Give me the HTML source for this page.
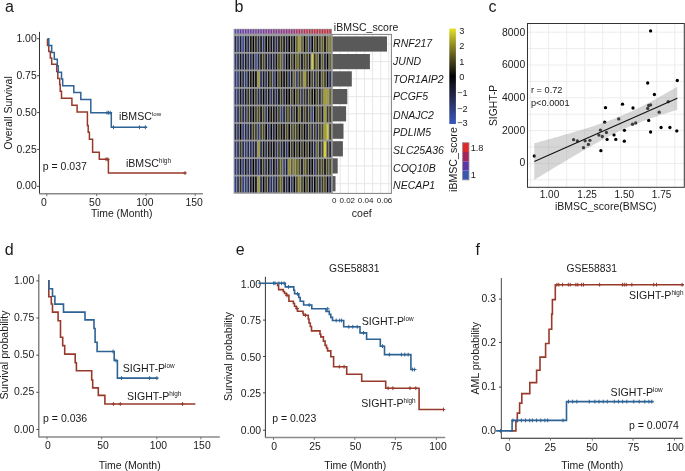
<!DOCTYPE html><html><head><meta charset="utf-8"><style>html,body{margin:0;padding:0;background:#fff;}svg{display:block;}</style></head><body>
<svg style="will-change:transform" width="685" height="471" viewBox="0 0 685 471" font-family='"Liberation Sans", sans-serif'>
<rect width="685" height="471" fill="#fff"/>
<text x="5" y="12.3" font-size="16" text-anchor="start" fill="#1a1a1a" >a</text>
<text x="234.6" y="11.8" font-size="16" text-anchor="start" fill="#1a1a1a" >b</text>
<text x="488.6" y="11.9" font-size="16" text-anchor="start" fill="#1a1a1a" >c</text>
<text x="4.8" y="254.6" font-size="16" text-anchor="start" fill="#1a1a1a" >d</text>
<text x="235.7" y="255" font-size="16" text-anchor="start" fill="#1a1a1a" >e</text>
<text x="475.5" y="254.5" font-size="16" text-anchor="start" fill="#1a1a1a" >f</text>
<line x1="39.5" y1="31.9" x2="39.5" y2="193.8" stroke="#333" stroke-width="1"/>
<line x1="39.0" y1="193.8" x2="202.9" y2="193.8" stroke="#8a8a8a" stroke-width="1.5"/>
<line x1="37.1" y1="38.7" x2="39.5" y2="38.7" stroke="#333" stroke-width="0.9"/>
<text x="36.7" y="41.85" font-size="10.4" text-anchor="end" fill="#1a1a1a" >1.00</text>
<line x1="37.1" y1="75.7" x2="39.5" y2="75.7" stroke="#333" stroke-width="0.9"/>
<text x="36.7" y="78.85" font-size="10.4" text-anchor="end" fill="#1a1a1a" >0.75</text>
<line x1="37.1" y1="112.6" x2="39.5" y2="112.6" stroke="#333" stroke-width="0.9"/>
<text x="36.7" y="115.75" font-size="10.4" text-anchor="end" fill="#1a1a1a" >0.50</text>
<line x1="37.1" y1="149.4" x2="39.5" y2="149.4" stroke="#333" stroke-width="0.9"/>
<text x="36.7" y="152.55" font-size="10.4" text-anchor="end" fill="#1a1a1a" >0.25</text>
<line x1="37.1" y1="186.3" x2="39.5" y2="186.3" stroke="#333" stroke-width="0.9"/>
<text x="36.7" y="189.45" font-size="10.4" text-anchor="end" fill="#1a1a1a" >0.00</text>
<line x1="46.8" y1="193.8" x2="46.8" y2="196.20000000000002" stroke="#666" stroke-width="0.9"/>
<text x="44.0" y="205.5" font-size="10.4" text-anchor="middle" fill="#1a1a1a" >0</text>
<line x1="96.7" y1="193.8" x2="96.7" y2="196.20000000000002" stroke="#666" stroke-width="0.9"/>
<text x="94.9" y="205.5" font-size="10.4" text-anchor="middle" fill="#1a1a1a" >50</text>
<line x1="146.0" y1="193.8" x2="146.0" y2="196.20000000000002" stroke="#666" stroke-width="0.9"/>
<text x="144.8" y="205.5" font-size="10.4" text-anchor="middle" fill="#1a1a1a" >100</text>
<line x1="195.2" y1="193.8" x2="195.2" y2="196.20000000000002" stroke="#666" stroke-width="0.9"/>
<text x="194.1" y="205.5" font-size="10.4" text-anchor="middle" fill="#1a1a1a" >150</text>
<text x="121.7" y="216.8" font-size="10.4" text-anchor="middle" fill="#1a1a1a" >Time (Month)</text>
<text transform="translate(12.0,113.0) rotate(-90)" font-size="10.5" text-anchor="middle" fill="#1a1a1a">Overall Survival</text>
<text x="42.8" y="169.8" font-size="10.5" text-anchor="start" fill="#1a1a1a" >p = 0.037</text>
<text x="118.9" y="119.9" font-size="10.6" fill="#1a1a1a">iBMSC<tspan font-size="6.2" dy="-4">low</tspan></text>
<text x="125.9" y="167.2" font-size="10.6" fill="#1a1a1a">iBMSC<tspan font-size="6.4" dy="-4">high</tspan></text>
<path d="M47.50,38.80 L47.50,45.50 L48.80,45.50 L48.80,51.50 L50.30,51.50 L50.30,58.00 L51.70,58.00 L51.70,64.20 L56.70,64.20 L56.70,71.40 L57.80,71.40 L57.80,78.40 L59.70,78.40 L59.70,84.50 L60.20,84.50 L60.20,91.20 L61.50,91.20 L61.50,98.30 L71.90,98.30 L71.90,105.30 L77.10,105.30 L77.10,112.00 L87.40,112.00 L87.40,125.40 L88.20,125.40 L88.20,132.20 L89.40,132.20 L89.40,139.20 L92.60,139.20 L92.60,152.30 L99.30,152.30 L99.30,159.30 L108.40,159.30 L108.40,173.00 L185.70,173.00" fill="none" stroke="#983a2b" stroke-width="1.5" stroke-linejoin="miter"/>
<path d="M47.50,38.80 L48.80,38.80 L48.80,45.60 L51.70,45.60 L51.70,52.60 L54.30,52.60 L54.30,59.30 L57.30,59.30 L57.30,65.70 L58.20,65.70 L58.20,72.20 L61.50,72.20 L61.50,79.00 L62.70,79.00 L62.70,85.70 L73.80,85.70 L73.80,92.40 L80.80,92.40 L80.80,99.40 L90.80,99.40 L90.80,112.70 L111.30,112.70 L111.30,127.30 L146.90,127.30" fill="none" stroke="#2e6396" stroke-width="1.5" stroke-linejoin="miter"/>
<path d="M104.10,159.30 H107.90 M106.00,157.40 V161.20" stroke="#983a2b" stroke-width="1.0"/>
<path d="M105.80,159.30 H109.60 M107.70,157.40 V161.20" stroke="#983a2b" stroke-width="1.0"/>
<path d="M183.10,173.00 H186.90 M185.00,171.10 V174.90" stroke="#983a2b" stroke-width="1.0"/>
<path d="M105.10,112.70 H108.90 M107.00,110.80 V114.60" stroke="#2e6396" stroke-width="1.0"/>
<path d="M106.70,112.70 H110.50 M108.60,110.80 V114.60" stroke="#2e6396" stroke-width="1.0"/>
<path d="M108.30,112.70 H112.10 M110.20,110.80 V114.60" stroke="#2e6396" stroke-width="1.0"/>
<path d="M111.60,127.30 H115.40 M113.50,125.40 V129.20" stroke="#2e6396" stroke-width="1.0"/>
<path d="M137.60,127.30 H141.40 M139.50,125.40 V129.20" stroke="#2e6396" stroke-width="1.0"/>
<path d="M143.50,127.30 H147.30 M145.40,125.40 V129.20" stroke="#2e6396" stroke-width="1.0"/>
<rect x="233.6" y="28.8" width="98.39999999999999" height="165.0" fill="#9c9c9e"/>
<rect x="234.80" y="29.4" width="1.36" height="4.2" fill="#3755c8"/>
<rect x="237.36" y="29.4" width="1.36" height="4.2" fill="#603aba"/>
<rect x="239.92" y="29.4" width="1.36" height="4.2" fill="#6737b8"/>
<rect x="242.47" y="29.4" width="1.36" height="4.2" fill="#6937b7"/>
<rect x="245.03" y="29.4" width="1.36" height="4.2" fill="#6c37b7"/>
<rect x="247.59" y="29.4" width="1.36" height="4.2" fill="#6f37b6"/>
<rect x="250.15" y="29.4" width="1.36" height="4.2" fill="#7237b5"/>
<rect x="252.71" y="29.4" width="1.36" height="4.2" fill="#7537b4"/>
<rect x="255.26" y="29.4" width="1.36" height="4.2" fill="#7836b3"/>
<rect x="257.82" y="29.4" width="1.36" height="4.2" fill="#7b35b0"/>
<rect x="260.38" y="29.4" width="1.36" height="4.2" fill="#7f34ae"/>
<rect x="262.94" y="29.4" width="1.36" height="4.2" fill="#8233ab"/>
<rect x="265.49" y="29.4" width="1.36" height="4.2" fill="#8531a9"/>
<rect x="268.05" y="29.4" width="1.36" height="4.2" fill="#8930a6"/>
<rect x="270.61" y="29.4" width="1.36" height="4.2" fill="#8c2fa4"/>
<rect x="273.17" y="29.4" width="1.36" height="4.2" fill="#8f2ea1"/>
<rect x="275.73" y="29.4" width="1.36" height="4.2" fill="#932d9e"/>
<rect x="278.28" y="29.4" width="1.36" height="4.2" fill="#972c9a"/>
<rect x="280.84" y="29.4" width="1.36" height="4.2" fill="#9b2b96"/>
<rect x="283.40" y="29.4" width="1.36" height="4.2" fill="#a02a91"/>
<rect x="285.96" y="29.4" width="1.36" height="4.2" fill="#a4298d"/>
<rect x="288.52" y="29.4" width="1.36" height="4.2" fill="#a82889"/>
<rect x="291.07" y="29.4" width="1.36" height="4.2" fill="#ad2882"/>
<rect x="293.63" y="29.4" width="1.36" height="4.2" fill="#b42779"/>
<rect x="296.19" y="29.4" width="1.36" height="4.2" fill="#ba2770"/>
<rect x="298.75" y="29.4" width="1.36" height="4.2" fill="#c02667"/>
<rect x="301.31" y="29.4" width="1.36" height="4.2" fill="#c6265e"/>
<rect x="303.86" y="29.4" width="1.36" height="4.2" fill="#cb2455"/>
<rect x="306.42" y="29.4" width="1.36" height="4.2" fill="#d0234c"/>
<rect x="308.98" y="29.4" width="1.36" height="4.2" fill="#d42143"/>
<rect x="311.54" y="29.4" width="1.36" height="4.2" fill="#d8203d"/>
<rect x="314.09" y="29.4" width="1.36" height="4.2" fill="#d91f3b"/>
<rect x="316.65" y="29.4" width="1.36" height="4.2" fill="#db1f39"/>
<rect x="319.21" y="29.4" width="1.36" height="4.2" fill="#dd1e38"/>
<rect x="321.77" y="29.4" width="1.36" height="4.2" fill="#df1e36"/>
<rect x="324.33" y="29.4" width="1.36" height="4.2" fill="#e01d34"/>
<rect x="326.88" y="29.4" width="1.36" height="4.2" fill="#e21d32"/>
<rect x="329.44" y="29.4" width="1.36" height="4.2" fill="#e41c30"/>
<rect x="234.70" y="36.15" width="1.56" height="15.84" fill="#22284f"/>
<rect x="237.26" y="36.15" width="1.56" height="15.84" fill="#2d3b7c"/>
<rect x="239.82" y="36.15" width="1.56" height="15.84" fill="#1d203e"/>
<rect x="242.37" y="36.15" width="1.56" height="15.84" fill="#34499d"/>
<rect x="244.93" y="36.15" width="1.56" height="15.84" fill="#151627"/>
<rect x="247.49" y="36.15" width="1.56" height="15.84" fill="#22284f"/>
<rect x="250.05" y="36.15" width="1.56" height="15.84" fill="#151308"/>
<rect x="252.61" y="36.15" width="1.56" height="15.84" fill="#000000"/>
<rect x="255.16" y="36.15" width="1.56" height="15.84" fill="#272511"/>
<rect x="257.72" y="36.15" width="1.56" height="15.84" fill="#22284f"/>
<rect x="260.28" y="36.15" width="1.56" height="15.84" fill="#151308"/>
<rect x="262.84" y="36.15" width="1.56" height="15.84" fill="#2a366f"/>
<rect x="265.39" y="36.15" width="1.56" height="15.84" fill="#000000"/>
<rect x="267.95" y="36.15" width="1.56" height="15.84" fill="#151308"/>
<rect x="270.51" y="36.15" width="1.56" height="15.84" fill="#11111d"/>
<rect x="273.07" y="36.15" width="1.56" height="15.84" fill="#151627"/>
<rect x="275.63" y="36.15" width="1.56" height="15.84" fill="#22284f"/>
<rect x="278.18" y="36.15" width="1.56" height="15.84" fill="#151308"/>
<rect x="280.74" y="36.15" width="1.56" height="15.84" fill="#3b3816"/>
<rect x="283.30" y="36.15" width="1.56" height="15.84" fill="#151308"/>
<rect x="285.86" y="36.15" width="1.56" height="15.84" fill="#191b32"/>
<rect x="288.42" y="36.15" width="1.56" height="15.84" fill="#000000"/>
<rect x="290.97" y="36.15" width="1.56" height="15.84" fill="#272511"/>
<rect x="293.53" y="36.15" width="1.56" height="15.84" fill="#05050a"/>
<rect x="296.09" y="36.15" width="1.56" height="15.84" fill="#65621e"/>
<rect x="298.65" y="36.15" width="1.56" height="15.84" fill="#a39f25"/>
<rect x="301.21" y="36.15" width="1.56" height="15.84" fill="#65621e"/>
<rect x="303.76" y="36.15" width="1.56" height="15.84" fill="#000000"/>
<rect x="306.32" y="36.15" width="1.56" height="15.84" fill="#494619"/>
<rect x="308.88" y="36.15" width="1.56" height="15.84" fill="#2a366f"/>
<rect x="311.44" y="36.15" width="1.56" height="15.84" fill="#05050a"/>
<rect x="313.99" y="36.15" width="1.56" height="15.84" fill="#494619"/>
<rect x="316.55" y="36.15" width="1.56" height="15.84" fill="#151308"/>
<rect x="319.11" y="36.15" width="1.56" height="15.84" fill="#494619"/>
<rect x="321.67" y="36.15" width="1.56" height="15.84" fill="#65621e"/>
<rect x="324.23" y="36.15" width="1.56" height="15.84" fill="#05050a"/>
<rect x="326.78" y="36.15" width="1.56" height="15.84" fill="#65621e"/>
<rect x="329.34" y="36.15" width="1.56" height="15.84" fill="#848022"/>
<rect x="234.70" y="53.69" width="1.56" height="15.84" fill="#2d3b7c"/>
<rect x="237.26" y="53.69" width="1.56" height="15.84" fill="#22284f"/>
<rect x="239.82" y="53.69" width="1.56" height="15.84" fill="#151627"/>
<rect x="242.37" y="53.69" width="1.56" height="15.84" fill="#22284f"/>
<rect x="244.93" y="53.69" width="1.56" height="15.84" fill="#151627"/>
<rect x="247.49" y="53.69" width="1.56" height="15.84" fill="#262d5c"/>
<rect x="250.05" y="53.69" width="1.56" height="15.84" fill="#22284f"/>
<rect x="252.61" y="53.69" width="1.56" height="15.84" fill="#151308"/>
<rect x="255.16" y="53.69" width="1.56" height="15.84" fill="#34499d"/>
<rect x="257.72" y="53.69" width="1.56" height="15.84" fill="#22284f"/>
<rect x="260.28" y="53.69" width="1.56" height="15.84" fill="#151308"/>
<rect x="262.84" y="53.69" width="1.56" height="15.84" fill="#494619"/>
<rect x="265.39" y="53.69" width="1.56" height="15.84" fill="#151627"/>
<rect x="267.95" y="53.69" width="1.56" height="15.84" fill="#22284f"/>
<rect x="270.51" y="53.69" width="1.56" height="15.84" fill="#151627"/>
<rect x="273.07" y="53.69" width="1.56" height="15.84" fill="#22284f"/>
<rect x="275.63" y="53.69" width="1.56" height="15.84" fill="#151308"/>
<rect x="278.18" y="53.69" width="1.56" height="15.84" fill="#494619"/>
<rect x="280.74" y="53.69" width="1.56" height="15.84" fill="#65621e"/>
<rect x="283.30" y="53.69" width="1.56" height="15.84" fill="#2a366f"/>
<rect x="285.86" y="53.69" width="1.56" height="15.84" fill="#000000"/>
<rect x="288.42" y="53.69" width="1.56" height="15.84" fill="#05050a"/>
<rect x="290.97" y="53.69" width="1.56" height="15.84" fill="#494619"/>
<rect x="293.53" y="53.69" width="1.56" height="15.84" fill="#151308"/>
<rect x="296.09" y="53.69" width="1.56" height="15.84" fill="#65621e"/>
<rect x="298.65" y="53.69" width="1.56" height="15.84" fill="#494619"/>
<rect x="301.21" y="53.69" width="1.56" height="15.84" fill="#05050a"/>
<rect x="303.76" y="53.69" width="1.56" height="15.84" fill="#494619"/>
<rect x="306.32" y="53.69" width="1.56" height="15.84" fill="#3b3816"/>
<rect x="308.88" y="53.69" width="1.56" height="15.84" fill="#141422"/>
<rect x="311.44" y="53.69" width="1.56" height="15.84" fill="#d4cf28"/>
<rect x="313.99" y="53.69" width="1.56" height="15.84" fill="#3b3816"/>
<rect x="316.55" y="53.69" width="1.56" height="15.84" fill="#65621e"/>
<rect x="319.11" y="53.69" width="1.56" height="15.84" fill="#05050a"/>
<rect x="321.67" y="53.69" width="1.56" height="15.84" fill="#65621e"/>
<rect x="324.23" y="53.69" width="1.56" height="15.84" fill="#191b32"/>
<rect x="326.78" y="53.69" width="1.56" height="15.84" fill="#000000"/>
<rect x="329.34" y="53.69" width="1.56" height="15.84" fill="#65621e"/>
<rect x="234.70" y="71.24" width="1.56" height="15.84" fill="#2d3b7c"/>
<rect x="237.26" y="71.24" width="1.56" height="15.84" fill="#2d3b7c"/>
<rect x="239.82" y="71.24" width="1.56" height="15.84" fill="#151308"/>
<rect x="242.37" y="71.24" width="1.56" height="15.84" fill="#22284f"/>
<rect x="244.93" y="71.24" width="1.56" height="15.84" fill="#2d3b7c"/>
<rect x="247.49" y="71.24" width="1.56" height="15.84" fill="#151627"/>
<rect x="250.05" y="71.24" width="1.56" height="15.84" fill="#151308"/>
<rect x="252.61" y="71.24" width="1.56" height="15.84" fill="#05050a"/>
<rect x="255.16" y="71.24" width="1.56" height="15.84" fill="#000000"/>
<rect x="257.72" y="71.24" width="1.56" height="15.84" fill="#a39f25"/>
<rect x="260.28" y="71.24" width="1.56" height="15.84" fill="#22284f"/>
<rect x="262.84" y="71.24" width="1.56" height="15.84" fill="#151627"/>
<rect x="265.39" y="71.24" width="1.56" height="15.84" fill="#22284f"/>
<rect x="267.95" y="71.24" width="1.56" height="15.84" fill="#151308"/>
<rect x="270.51" y="71.24" width="1.56" height="15.84" fill="#3b3816"/>
<rect x="273.07" y="71.24" width="1.56" height="15.84" fill="#2a366f"/>
<rect x="275.63" y="71.24" width="1.56" height="15.84" fill="#05050a"/>
<rect x="278.18" y="71.24" width="1.56" height="15.84" fill="#494619"/>
<rect x="280.74" y="71.24" width="1.56" height="15.84" fill="#151308"/>
<rect x="283.30" y="71.24" width="1.56" height="15.84" fill="#05050a"/>
<rect x="285.86" y="71.24" width="1.56" height="15.84" fill="#151308"/>
<rect x="288.42" y="71.24" width="1.56" height="15.84" fill="#22284f"/>
<rect x="290.97" y="71.24" width="1.56" height="15.84" fill="#191b32"/>
<rect x="293.53" y="71.24" width="1.56" height="15.84" fill="#65621e"/>
<rect x="296.09" y="71.24" width="1.56" height="15.84" fill="#2a366f"/>
<rect x="298.65" y="71.24" width="1.56" height="15.84" fill="#3b3816"/>
<rect x="301.21" y="71.24" width="1.56" height="15.84" fill="#494619"/>
<rect x="303.76" y="71.24" width="1.56" height="15.84" fill="#a39f25"/>
<rect x="306.32" y="71.24" width="1.56" height="15.84" fill="#3b3816"/>
<rect x="308.88" y="71.24" width="1.56" height="15.84" fill="#05050a"/>
<rect x="311.44" y="71.24" width="1.56" height="15.84" fill="#494619"/>
<rect x="313.99" y="71.24" width="1.56" height="15.84" fill="#22284f"/>
<rect x="316.55" y="71.24" width="1.56" height="15.84" fill="#494619"/>
<rect x="319.11" y="71.24" width="1.56" height="15.84" fill="#05050a"/>
<rect x="321.67" y="71.24" width="1.56" height="15.84" fill="#65621e"/>
<rect x="324.23" y="71.24" width="1.56" height="15.84" fill="#3b3816"/>
<rect x="326.78" y="71.24" width="1.56" height="15.84" fill="#05050a"/>
<rect x="329.34" y="71.24" width="1.56" height="15.84" fill="#262d5c"/>
<rect x="234.70" y="88.78" width="1.56" height="15.84" fill="#2d3b7c"/>
<rect x="237.26" y="88.78" width="1.56" height="15.84" fill="#273062"/>
<rect x="239.82" y="88.78" width="1.56" height="15.84" fill="#151627"/>
<rect x="242.37" y="88.78" width="1.56" height="15.84" fill="#22284f"/>
<rect x="244.93" y="88.78" width="1.56" height="15.84" fill="#151627"/>
<rect x="247.49" y="88.78" width="1.56" height="15.84" fill="#2e2c13"/>
<rect x="250.05" y="88.78" width="1.56" height="15.84" fill="#1d203e"/>
<rect x="252.61" y="88.78" width="1.56" height="15.84" fill="#000000"/>
<rect x="255.16" y="88.78" width="1.56" height="15.84" fill="#3b3816"/>
<rect x="257.72" y="88.78" width="1.56" height="15.84" fill="#22284f"/>
<rect x="260.28" y="88.78" width="1.56" height="15.84" fill="#151627"/>
<rect x="262.84" y="88.78" width="1.56" height="15.84" fill="#05050a"/>
<rect x="265.39" y="88.78" width="1.56" height="15.84" fill="#22284f"/>
<rect x="267.95" y="88.78" width="1.56" height="15.84" fill="#151308"/>
<rect x="270.51" y="88.78" width="1.56" height="15.84" fill="#273062"/>
<rect x="273.07" y="88.78" width="1.56" height="15.84" fill="#151627"/>
<rect x="275.63" y="88.78" width="1.56" height="15.84" fill="#22284f"/>
<rect x="278.18" y="88.78" width="1.56" height="15.84" fill="#05050a"/>
<rect x="280.74" y="88.78" width="1.56" height="15.84" fill="#3b3816"/>
<rect x="283.30" y="88.78" width="1.56" height="15.84" fill="#1d203e"/>
<rect x="285.86" y="88.78" width="1.56" height="15.84" fill="#000000"/>
<rect x="288.42" y="88.78" width="1.56" height="15.84" fill="#05050a"/>
<rect x="290.97" y="88.78" width="1.56" height="15.84" fill="#494619"/>
<rect x="293.53" y="88.78" width="1.56" height="15.84" fill="#000000"/>
<rect x="296.09" y="88.78" width="1.56" height="15.84" fill="#494619"/>
<rect x="298.65" y="88.78" width="1.56" height="15.84" fill="#3b3816"/>
<rect x="301.21" y="88.78" width="1.56" height="15.84" fill="#273062"/>
<rect x="303.76" y="88.78" width="1.56" height="15.84" fill="#3b3816"/>
<rect x="306.32" y="88.78" width="1.56" height="15.84" fill="#1d203e"/>
<rect x="308.88" y="88.78" width="1.56" height="15.84" fill="#494619"/>
<rect x="311.44" y="88.78" width="1.56" height="15.84" fill="#151308"/>
<rect x="313.99" y="88.78" width="1.56" height="15.84" fill="#000000"/>
<rect x="316.55" y="88.78" width="1.56" height="15.84" fill="#494619"/>
<rect x="319.11" y="88.78" width="1.56" height="15.84" fill="#191b32"/>
<rect x="321.67" y="88.78" width="1.56" height="15.84" fill="#65621e"/>
<rect x="324.23" y="88.78" width="1.56" height="15.84" fill="#a39f25"/>
<rect x="326.78" y="88.78" width="1.56" height="15.84" fill="#a39f25"/>
<rect x="329.34" y="88.78" width="1.56" height="15.84" fill="#65621e"/>
<rect x="234.70" y="106.33" width="1.56" height="15.84" fill="#2d3b7c"/>
<rect x="237.26" y="106.33" width="1.56" height="15.84" fill="#22284f"/>
<rect x="239.82" y="106.33" width="1.56" height="15.84" fill="#3b3816"/>
<rect x="242.37" y="106.33" width="1.56" height="15.84" fill="#22284f"/>
<rect x="244.93" y="106.33" width="1.56" height="15.84" fill="#262d5c"/>
<rect x="247.49" y="106.33" width="1.56" height="15.84" fill="#3b3816"/>
<rect x="250.05" y="106.33" width="1.56" height="15.84" fill="#151627"/>
<rect x="252.61" y="106.33" width="1.56" height="15.84" fill="#000000"/>
<rect x="255.16" y="106.33" width="1.56" height="15.84" fill="#3b3816"/>
<rect x="257.72" y="106.33" width="1.56" height="15.84" fill="#494619"/>
<rect x="260.28" y="106.33" width="1.56" height="15.84" fill="#05050a"/>
<rect x="262.84" y="106.33" width="1.56" height="15.84" fill="#494619"/>
<rect x="265.39" y="106.33" width="1.56" height="15.84" fill="#273062"/>
<rect x="267.95" y="106.33" width="1.56" height="15.84" fill="#05050a"/>
<rect x="270.51" y="106.33" width="1.56" height="15.84" fill="#151308"/>
<rect x="273.07" y="106.33" width="1.56" height="15.84" fill="#151308"/>
<rect x="275.63" y="106.33" width="1.56" height="15.84" fill="#151627"/>
<rect x="278.18" y="106.33" width="1.56" height="15.84" fill="#3b3816"/>
<rect x="280.74" y="106.33" width="1.56" height="15.84" fill="#2d3b7c"/>
<rect x="283.30" y="106.33" width="1.56" height="15.84" fill="#191b32"/>
<rect x="285.86" y="106.33" width="1.56" height="15.84" fill="#3b3816"/>
<rect x="288.42" y="106.33" width="1.56" height="15.84" fill="#494619"/>
<rect x="290.97" y="106.33" width="1.56" height="15.84" fill="#22284f"/>
<rect x="293.53" y="106.33" width="1.56" height="15.84" fill="#3b3816"/>
<rect x="296.09" y="106.33" width="1.56" height="15.84" fill="#05050a"/>
<rect x="298.65" y="106.33" width="1.56" height="15.84" fill="#65621e"/>
<rect x="301.21" y="106.33" width="1.56" height="15.84" fill="#05050a"/>
<rect x="303.76" y="106.33" width="1.56" height="15.84" fill="#494619"/>
<rect x="306.32" y="106.33" width="1.56" height="15.84" fill="#151627"/>
<rect x="308.88" y="106.33" width="1.56" height="15.84" fill="#3b3816"/>
<rect x="311.44" y="106.33" width="1.56" height="15.84" fill="#304189"/>
<rect x="313.99" y="106.33" width="1.56" height="15.84" fill="#05050a"/>
<rect x="316.55" y="106.33" width="1.56" height="15.84" fill="#494619"/>
<rect x="319.11" y="106.33" width="1.56" height="15.84" fill="#3b3816"/>
<rect x="321.67" y="106.33" width="1.56" height="15.84" fill="#151627"/>
<rect x="324.23" y="106.33" width="1.56" height="15.84" fill="#a39f25"/>
<rect x="326.78" y="106.33" width="1.56" height="15.84" fill="#3b3816"/>
<rect x="329.34" y="106.33" width="1.56" height="15.84" fill="#3b3816"/>
<rect x="234.70" y="123.87" width="1.56" height="15.84" fill="#22284f"/>
<rect x="237.26" y="123.87" width="1.56" height="15.84" fill="#273062"/>
<rect x="239.82" y="123.87" width="1.56" height="15.84" fill="#000000"/>
<rect x="242.37" y="123.87" width="1.56" height="15.84" fill="#2d3b7c"/>
<rect x="244.93" y="123.87" width="1.56" height="15.84" fill="#22284f"/>
<rect x="247.49" y="123.87" width="1.56" height="15.84" fill="#22284f"/>
<rect x="250.05" y="123.87" width="1.56" height="15.84" fill="#151627"/>
<rect x="252.61" y="123.87" width="1.56" height="15.84" fill="#3b3816"/>
<rect x="255.16" y="123.87" width="1.56" height="15.84" fill="#3b3816"/>
<rect x="257.72" y="123.87" width="1.56" height="15.84" fill="#2d3b7c"/>
<rect x="260.28" y="123.87" width="1.56" height="15.84" fill="#3b3816"/>
<rect x="262.84" y="123.87" width="1.56" height="15.84" fill="#494619"/>
<rect x="265.39" y="123.87" width="1.56" height="15.84" fill="#000000"/>
<rect x="267.95" y="123.87" width="1.56" height="15.84" fill="#273062"/>
<rect x="270.51" y="123.87" width="1.56" height="15.84" fill="#05050a"/>
<rect x="273.07" y="123.87" width="1.56" height="15.84" fill="#1d203e"/>
<rect x="275.63" y="123.87" width="1.56" height="15.84" fill="#05050a"/>
<rect x="278.18" y="123.87" width="1.56" height="15.84" fill="#3b3816"/>
<rect x="280.74" y="123.87" width="1.56" height="15.84" fill="#151308"/>
<rect x="283.30" y="123.87" width="1.56" height="15.84" fill="#05050a"/>
<rect x="285.86" y="123.87" width="1.56" height="15.84" fill="#494619"/>
<rect x="288.42" y="123.87" width="1.56" height="15.84" fill="#05050a"/>
<rect x="290.97" y="123.87" width="1.56" height="15.84" fill="#494619"/>
<rect x="293.53" y="123.87" width="1.56" height="15.84" fill="#494619"/>
<rect x="296.09" y="123.87" width="1.56" height="15.84" fill="#3b3816"/>
<rect x="298.65" y="123.87" width="1.56" height="15.84" fill="#000000"/>
<rect x="301.21" y="123.87" width="1.56" height="15.84" fill="#3b3816"/>
<rect x="303.76" y="123.87" width="1.56" height="15.84" fill="#05050a"/>
<rect x="306.32" y="123.87" width="1.56" height="15.84" fill="#151627"/>
<rect x="308.88" y="123.87" width="1.56" height="15.84" fill="#494619"/>
<rect x="311.44" y="123.87" width="1.56" height="15.84" fill="#22284f"/>
<rect x="313.99" y="123.87" width="1.56" height="15.84" fill="#3b3816"/>
<rect x="316.55" y="123.87" width="1.56" height="15.84" fill="#22284f"/>
<rect x="319.11" y="123.87" width="1.56" height="15.84" fill="#3b3816"/>
<rect x="321.67" y="123.87" width="1.56" height="15.84" fill="#494619"/>
<rect x="324.23" y="123.87" width="1.56" height="15.84" fill="#a39f25"/>
<rect x="326.78" y="123.87" width="1.56" height="15.84" fill="#d4cf28"/>
<rect x="329.34" y="123.87" width="1.56" height="15.84" fill="#3b3816"/>
<rect x="234.70" y="141.42" width="1.56" height="15.84" fill="#2d3b7c"/>
<rect x="237.26" y="141.42" width="1.56" height="15.84" fill="#22284f"/>
<rect x="239.82" y="141.42" width="1.56" height="15.84" fill="#3b3816"/>
<rect x="242.37" y="141.42" width="1.56" height="15.84" fill="#22284f"/>
<rect x="244.93" y="141.42" width="1.56" height="15.84" fill="#2d3b7c"/>
<rect x="247.49" y="141.42" width="1.56" height="15.84" fill="#22284f"/>
<rect x="250.05" y="141.42" width="1.56" height="15.84" fill="#262d5c"/>
<rect x="252.61" y="141.42" width="1.56" height="15.84" fill="#22284f"/>
<rect x="255.16" y="141.42" width="1.56" height="15.84" fill="#151627"/>
<rect x="257.72" y="141.42" width="1.56" height="15.84" fill="#a39f25"/>
<rect x="260.28" y="141.42" width="1.56" height="15.84" fill="#22284f"/>
<rect x="262.84" y="141.42" width="1.56" height="15.84" fill="#151308"/>
<rect x="265.39" y="141.42" width="1.56" height="15.84" fill="#22284f"/>
<rect x="267.95" y="141.42" width="1.56" height="15.84" fill="#151308"/>
<rect x="270.51" y="141.42" width="1.56" height="15.84" fill="#151627"/>
<rect x="273.07" y="141.42" width="1.56" height="15.84" fill="#05050a"/>
<rect x="275.63" y="141.42" width="1.56" height="15.84" fill="#273062"/>
<rect x="278.18" y="141.42" width="1.56" height="15.84" fill="#3b3816"/>
<rect x="280.74" y="141.42" width="1.56" height="15.84" fill="#22284f"/>
<rect x="283.30" y="141.42" width="1.56" height="15.84" fill="#05050a"/>
<rect x="285.86" y="141.42" width="1.56" height="15.84" fill="#273062"/>
<rect x="288.42" y="141.42" width="1.56" height="15.84" fill="#000000"/>
<rect x="290.97" y="141.42" width="1.56" height="15.84" fill="#3b3816"/>
<rect x="293.53" y="141.42" width="1.56" height="15.84" fill="#05050a"/>
<rect x="296.09" y="141.42" width="1.56" height="15.84" fill="#3b3816"/>
<rect x="298.65" y="141.42" width="1.56" height="15.84" fill="#05050a"/>
<rect x="301.21" y="141.42" width="1.56" height="15.84" fill="#3b3816"/>
<rect x="303.76" y="141.42" width="1.56" height="15.84" fill="#000000"/>
<rect x="306.32" y="141.42" width="1.56" height="15.84" fill="#3b3816"/>
<rect x="308.88" y="141.42" width="1.56" height="15.84" fill="#05050a"/>
<rect x="311.44" y="141.42" width="1.56" height="15.84" fill="#151627"/>
<rect x="313.99" y="141.42" width="1.56" height="15.84" fill="#22284f"/>
<rect x="316.55" y="141.42" width="1.56" height="15.84" fill="#65621e"/>
<rect x="319.11" y="141.42" width="1.56" height="15.84" fill="#191b32"/>
<rect x="321.67" y="141.42" width="1.56" height="15.84" fill="#494619"/>
<rect x="324.23" y="141.42" width="1.56" height="15.84" fill="#e5e028"/>
<rect x="326.78" y="141.42" width="1.56" height="15.84" fill="#494619"/>
<rect x="329.34" y="141.42" width="1.56" height="15.84" fill="#191b32"/>
<rect x="234.70" y="158.96" width="1.56" height="15.84" fill="#2d3b7c"/>
<rect x="237.26" y="158.96" width="1.56" height="15.84" fill="#273062"/>
<rect x="239.82" y="158.96" width="1.56" height="15.84" fill="#151627"/>
<rect x="242.37" y="158.96" width="1.56" height="15.84" fill="#2d3b7c"/>
<rect x="244.93" y="158.96" width="1.56" height="15.84" fill="#151627"/>
<rect x="247.49" y="158.96" width="1.56" height="15.84" fill="#262d5c"/>
<rect x="250.05" y="158.96" width="1.56" height="15.84" fill="#22284f"/>
<rect x="252.61" y="158.96" width="1.56" height="15.84" fill="#000000"/>
<rect x="255.16" y="158.96" width="1.56" height="15.84" fill="#151627"/>
<rect x="257.72" y="158.96" width="1.56" height="15.84" fill="#2d3b7c"/>
<rect x="260.28" y="158.96" width="1.56" height="15.84" fill="#05050a"/>
<rect x="262.84" y="158.96" width="1.56" height="15.84" fill="#3b3816"/>
<rect x="265.39" y="158.96" width="1.56" height="15.84" fill="#22284f"/>
<rect x="267.95" y="158.96" width="1.56" height="15.84" fill="#151308"/>
<rect x="270.51" y="158.96" width="1.56" height="15.84" fill="#273062"/>
<rect x="273.07" y="158.96" width="1.56" height="15.84" fill="#05050a"/>
<rect x="275.63" y="158.96" width="1.56" height="15.84" fill="#22284f"/>
<rect x="278.18" y="158.96" width="1.56" height="15.84" fill="#3b3816"/>
<rect x="280.74" y="158.96" width="1.56" height="15.84" fill="#65621e"/>
<rect x="283.30" y="158.96" width="1.56" height="15.84" fill="#2d3b7c"/>
<rect x="285.86" y="158.96" width="1.56" height="15.84" fill="#191b32"/>
<rect x="288.42" y="158.96" width="1.56" height="15.84" fill="#938f24"/>
<rect x="290.97" y="158.96" width="1.56" height="15.84" fill="#65621e"/>
<rect x="293.53" y="158.96" width="1.56" height="15.84" fill="#848022"/>
<rect x="296.09" y="158.96" width="1.56" height="15.84" fill="#65621e"/>
<rect x="298.65" y="158.96" width="1.56" height="15.84" fill="#494619"/>
<rect x="301.21" y="158.96" width="1.56" height="15.84" fill="#05050a"/>
<rect x="303.76" y="158.96" width="1.56" height="15.84" fill="#65621e"/>
<rect x="306.32" y="158.96" width="1.56" height="15.84" fill="#3b3816"/>
<rect x="308.88" y="158.96" width="1.56" height="15.84" fill="#05050a"/>
<rect x="311.44" y="158.96" width="1.56" height="15.84" fill="#05050a"/>
<rect x="313.99" y="158.96" width="1.56" height="15.84" fill="#2a366f"/>
<rect x="316.55" y="158.96" width="1.56" height="15.84" fill="#3b3816"/>
<rect x="319.11" y="158.96" width="1.56" height="15.84" fill="#3b3816"/>
<rect x="321.67" y="158.96" width="1.56" height="15.84" fill="#494619"/>
<rect x="324.23" y="158.96" width="1.56" height="15.84" fill="#05050a"/>
<rect x="326.78" y="158.96" width="1.56" height="15.84" fill="#494619"/>
<rect x="329.34" y="158.96" width="1.56" height="15.84" fill="#494619"/>
<rect x="234.70" y="176.51" width="1.56" height="15.84" fill="#304189"/>
<rect x="237.26" y="176.51" width="1.56" height="15.84" fill="#22284f"/>
<rect x="239.82" y="176.51" width="1.56" height="15.84" fill="#3b3816"/>
<rect x="242.37" y="176.51" width="1.56" height="15.84" fill="#2d3b7c"/>
<rect x="244.93" y="176.51" width="1.56" height="15.84" fill="#2d3b7c"/>
<rect x="247.49" y="176.51" width="1.56" height="15.84" fill="#273062"/>
<rect x="250.05" y="176.51" width="1.56" height="15.84" fill="#151627"/>
<rect x="252.61" y="176.51" width="1.56" height="15.84" fill="#000000"/>
<rect x="255.16" y="176.51" width="1.56" height="15.84" fill="#05050a"/>
<rect x="257.72" y="176.51" width="1.56" height="15.84" fill="#a39f25"/>
<rect x="260.28" y="176.51" width="1.56" height="15.84" fill="#22284f"/>
<rect x="262.84" y="176.51" width="1.56" height="15.84" fill="#05050a"/>
<rect x="265.39" y="176.51" width="1.56" height="15.84" fill="#3b3816"/>
<rect x="267.95" y="176.51" width="1.56" height="15.84" fill="#1d203e"/>
<rect x="270.51" y="176.51" width="1.56" height="15.84" fill="#262d5c"/>
<rect x="273.07" y="176.51" width="1.56" height="15.84" fill="#262d5c"/>
<rect x="275.63" y="176.51" width="1.56" height="15.84" fill="#191b32"/>
<rect x="278.18" y="176.51" width="1.56" height="15.84" fill="#494619"/>
<rect x="280.74" y="176.51" width="1.56" height="15.84" fill="#65621e"/>
<rect x="283.30" y="176.51" width="1.56" height="15.84" fill="#05050a"/>
<rect x="285.86" y="176.51" width="1.56" height="15.84" fill="#22284f"/>
<rect x="288.42" y="176.51" width="1.56" height="15.84" fill="#05050a"/>
<rect x="290.97" y="176.51" width="1.56" height="15.84" fill="#2a366f"/>
<rect x="293.53" y="176.51" width="1.56" height="15.84" fill="#05050a"/>
<rect x="296.09" y="176.51" width="1.56" height="15.84" fill="#494619"/>
<rect x="298.65" y="176.51" width="1.56" height="15.84" fill="#848022"/>
<rect x="301.21" y="176.51" width="1.56" height="15.84" fill="#494619"/>
<rect x="303.76" y="176.51" width="1.56" height="15.84" fill="#000000"/>
<rect x="306.32" y="176.51" width="1.56" height="15.84" fill="#494619"/>
<rect x="308.88" y="176.51" width="1.56" height="15.84" fill="#05050a"/>
<rect x="311.44" y="176.51" width="1.56" height="15.84" fill="#1d203e"/>
<rect x="313.99" y="176.51" width="1.56" height="15.84" fill="#05050a"/>
<rect x="316.55" y="176.51" width="1.56" height="15.84" fill="#494619"/>
<rect x="319.11" y="176.51" width="1.56" height="15.84" fill="#22284f"/>
<rect x="321.67" y="176.51" width="1.56" height="15.84" fill="#3b3816"/>
<rect x="324.23" y="176.51" width="1.56" height="15.84" fill="#494619"/>
<rect x="326.78" y="176.51" width="1.56" height="15.84" fill="#05050a"/>
<rect x="329.34" y="176.51" width="1.56" height="15.84" fill="#22284f"/>
<rect x="332.1" y="34.4" width="59.299999999999955" height="159.0" fill="#fff"/>
<line x1="340.2" y1="34.4" x2="340.2" y2="193.4" stroke="#e4e4e4" stroke-width="0.9"/>
<line x1="348.3" y1="34.4" x2="348.3" y2="193.4" stroke="#e4e4e4" stroke-width="0.9"/>
<line x1="356.4" y1="34.4" x2="356.4" y2="193.4" stroke="#e4e4e4" stroke-width="0.9"/>
<line x1="364.5" y1="34.4" x2="364.5" y2="193.4" stroke="#e4e4e4" stroke-width="0.9"/>
<line x1="372.6" y1="34.4" x2="372.6" y2="193.4" stroke="#e4e4e4" stroke-width="0.9"/>
<line x1="380.7" y1="34.4" x2="380.7" y2="193.4" stroke="#e4e4e4" stroke-width="0.9"/>
<line x1="388.8" y1="34.4" x2="388.8" y2="193.4" stroke="#e4e4e4" stroke-width="0.9"/>
<line x1="332.1" y1="44.0" x2="391.4" y2="44.0" stroke="#e4e4e4" stroke-width="0.9"/>
<line x1="332.1" y1="61.6" x2="391.4" y2="61.6" stroke="#e4e4e4" stroke-width="0.9"/>
<line x1="332.1" y1="78.9" x2="391.4" y2="78.9" stroke="#e4e4e4" stroke-width="0.9"/>
<line x1="332.1" y1="96.6" x2="391.4" y2="96.6" stroke="#e4e4e4" stroke-width="0.9"/>
<line x1="332.1" y1="113.8" x2="391.4" y2="113.8" stroke="#e4e4e4" stroke-width="0.9"/>
<line x1="332.1" y1="131.2" x2="391.4" y2="131.2" stroke="#e4e4e4" stroke-width="0.9"/>
<line x1="332.1" y1="148.8" x2="391.4" y2="148.8" stroke="#e4e4e4" stroke-width="0.9"/>
<line x1="332.1" y1="165.9" x2="391.4" y2="165.9" stroke="#e4e4e4" stroke-width="0.9"/>
<line x1="332.1" y1="183.7" x2="391.4" y2="183.7" stroke="#e4e4e4" stroke-width="0.9"/>
<rect x="332.40000000000003" y="36.40" width="54.60" height="15.2" fill="#595959"/>
<rect x="332.40000000000003" y="54.00" width="37.50" height="15.2" fill="#595959"/>
<rect x="332.40000000000003" y="71.30" width="19.40" height="15.2" fill="#595959"/>
<rect x="332.40000000000003" y="89.00" width="14.90" height="15.2" fill="#595959"/>
<rect x="332.40000000000003" y="106.20" width="13.70" height="15.2" fill="#595959"/>
<rect x="332.40000000000003" y="123.60" width="11.10" height="15.2" fill="#595959"/>
<rect x="332.40000000000003" y="141.20" width="10.50" height="15.2" fill="#595959"/>
<rect x="332.40000000000003" y="158.30" width="5.30" height="15.2" fill="#595959"/>
<rect x="332.40000000000003" y="176.10" width="3.10" height="15.2" fill="#595959"/>
<rect x="332.1" y="34.4" width="59.299999999999955" height="159.0" fill="none" stroke="#7f7f7f" stroke-width="1"/>
<text x="334.2" y="202.6" font-size="8" text-anchor="middle" fill="#1a1a1a" >0</text>
<text x="347.3" y="202.6" font-size="8" text-anchor="middle" fill="#1a1a1a" >0.02</text>
<text x="365.6" y="202.6" font-size="8" text-anchor="middle" fill="#1a1a1a" >0.04</text>
<text x="384.5" y="202.6" font-size="8" text-anchor="middle" fill="#1a1a1a" >0.06</text>
<text x="361.8" y="217" font-size="10.5" text-anchor="middle" fill="#1a1a1a" >coef</text>
<text x="333.8" y="30.9" font-size="10.55" text-anchor="start" fill="#1a1a1a" >iBMSC_score</text>
<text x="393.1" y="47.2" font-size="10.5" text-anchor="start" fill="#1a1a1a" font-style="italic">RNF217</text>
<text x="393.1" y="64.9" font-size="10.5" text-anchor="start" fill="#1a1a1a" font-style="italic">JUND</text>
<text x="393.1" y="82.6" font-size="10.5" text-anchor="start" fill="#1a1a1a" font-style="italic">TOR1AIP2</text>
<text x="393.1" y="100.2" font-size="10.5" text-anchor="start" fill="#1a1a1a" font-style="italic">PCGF5</text>
<text x="393.1" y="118.6" font-size="10.5" text-anchor="start" fill="#1a1a1a" font-style="italic">DNAJC2</text>
<text x="393.1" y="136.4" font-size="10.5" text-anchor="start" fill="#1a1a1a" font-style="italic">PDLIM5</text>
<text x="393.1" y="154.2" font-size="10.5" text-anchor="start" fill="#1a1a1a" font-style="italic">SLC25A36</text>
<text x="393.1" y="171.8" font-size="10.5" text-anchor="start" fill="#1a1a1a" font-style="italic">COQ10B</text>
<text x="393.1" y="189.4" font-size="10.5" text-anchor="start" fill="#1a1a1a" font-style="italic">NECAP1</text>
<defs><linearGradient id="cb1" x1="0" y1="0" x2="0" y2="1">
<stop offset="0.0000" stop-color="#e5e028"/>
<stop offset="0.0833" stop-color="#bbb727"/>
<stop offset="0.1667" stop-color="#938f24"/>
<stop offset="0.2500" stop-color="#6d691f"/>
<stop offset="0.3333" stop-color="#494619"/>
<stop offset="0.4167" stop-color="#272511"/>
<stop offset="0.5000" stop-color="#000000"/>
<stop offset="0.5833" stop-color="#141422"/>
<stop offset="0.6667" stop-color="#1d203e"/>
<stop offset="0.7500" stop-color="#262d5c"/>
<stop offset="0.8333" stop-color="#2d3b7c"/>
<stop offset="0.9167" stop-color="#34499d"/>
<stop offset="1.0000" stop-color="#3a58c0"/>
</linearGradient></defs>
<rect x="449.3" y="28.6" width="6.6" height="95.4" fill="url(#cb1)"/>
<text x="459.2" y="33.8" font-size="9.2" text-anchor="start" fill="#1a1a1a" >3</text>
<text x="459.2" y="49.0" font-size="9.2" text-anchor="start" fill="#1a1a1a" >2</text>
<text x="459.2" y="64.7" font-size="9.2" text-anchor="start" fill="#1a1a1a" >1</text>
<text x="459.2" y="80.39999999999999" font-size="9.2" text-anchor="start" fill="#1a1a1a" >0</text>
<text x="457.2" y="96.1" font-size="9.2" text-anchor="start" fill="#1a1a1a" >−1</text>
<text x="457.2" y="111.7" font-size="9.2" text-anchor="start" fill="#1a1a1a" >−2</text>
<text x="457.2" y="126.1" font-size="9.2" text-anchor="start" fill="#1a1a1a" >−3</text>
<text transform="translate(457.1,159.6) rotate(-90)" font-size="10.6" text-anchor="middle" fill="#1a1a1a">iBMSC_score</text>
<rect x="462.4" y="142.70" width="6.6" height="9.3" fill="#e02828"/>
<rect x="462.4" y="152.00" width="6.6" height="9.3" fill="#a4245e"/>
<rect x="462.4" y="161.30" width="6.6" height="9.3" fill="#5c35a6"/>
<rect x="462.4" y="170.60" width="6.6" height="9.3" fill="#3b55b2"/>
<rect x="462.4" y="142.7" width="6.6" height="37.2" fill="none" stroke="#999" stroke-width="0.8"/>
<text x="470.7" y="150.5" font-size="9.2" text-anchor="start" fill="#1a1a1a" >1.8</text>
<text x="470.7" y="177.6" font-size="9.2" text-anchor="start" fill="#1a1a1a" >1</text>
<rect x="527.5" y="23.5" width="156.79999999999995" height="163.8" fill="#fff"/>
<line x1="530.57" y1="23.5" x2="530.57" y2="187.3" stroke="#ebebeb" stroke-width="0.9"/>
<line x1="548.6" y1="23.5" x2="548.6" y2="187.3" stroke="#ebebeb" stroke-width="0.9"/>
<line x1="566.63" y1="23.5" x2="566.63" y2="187.3" stroke="#ebebeb" stroke-width="0.9"/>
<line x1="584.66" y1="23.5" x2="584.66" y2="187.3" stroke="#ebebeb" stroke-width="0.9"/>
<line x1="602.69" y1="23.5" x2="602.69" y2="187.3" stroke="#ebebeb" stroke-width="0.9"/>
<line x1="620.72" y1="23.5" x2="620.72" y2="187.3" stroke="#ebebeb" stroke-width="0.9"/>
<line x1="638.75" y1="23.5" x2="638.75" y2="187.3" stroke="#ebebeb" stroke-width="0.9"/>
<line x1="656.78" y1="23.5" x2="656.78" y2="187.3" stroke="#ebebeb" stroke-width="0.9"/>
<line x1="674.81" y1="23.5" x2="674.81" y2="187.3" stroke="#ebebeb" stroke-width="0.9"/>
<line x1="527.5" y1="32.2" x2="684.3" y2="32.2" stroke="#ebebeb" stroke-width="0.9"/>
<line x1="527.5" y1="48.6" x2="684.3" y2="48.6" stroke="#ebebeb" stroke-width="0.9"/>
<line x1="527.5" y1="65.0" x2="684.3" y2="65.0" stroke="#ebebeb" stroke-width="0.9"/>
<line x1="527.5" y1="81.4" x2="684.3" y2="81.4" stroke="#ebebeb" stroke-width="0.9"/>
<line x1="527.5" y1="97.8" x2="684.3" y2="97.8" stroke="#ebebeb" stroke-width="0.9"/>
<line x1="527.5" y1="114.2" x2="684.3" y2="114.2" stroke="#ebebeb" stroke-width="0.9"/>
<line x1="527.5" y1="130.6" x2="684.3" y2="130.6" stroke="#ebebeb" stroke-width="0.9"/>
<line x1="527.5" y1="147.0" x2="684.3" y2="147.0" stroke="#ebebeb" stroke-width="0.9"/>
<line x1="527.5" y1="163.4" x2="684.3" y2="163.4" stroke="#ebebeb" stroke-width="0.9"/>
<line x1="527.5" y1="179.8" x2="684.3" y2="179.8" stroke="#ebebeb" stroke-width="0.9"/>
<circle cx="534.3" cy="156.0" r="1.65" fill="#000"/>
<circle cx="573.6" cy="139.7" r="1.65" fill="#000"/>
<circle cx="577.4" cy="141.0" r="1.65" fill="#000"/>
<circle cx="585.1" cy="140.8" r="1.65" fill="#000"/>
<circle cx="589.9" cy="140.3" r="1.65" fill="#000"/>
<circle cx="588.4" cy="144.4" r="1.65" fill="#000"/>
<circle cx="583.5" cy="147.7" r="1.65" fill="#000"/>
<circle cx="600.4" cy="130.1" r="1.65" fill="#000"/>
<circle cx="598.9" cy="135.1" r="1.65" fill="#000"/>
<circle cx="602.3" cy="136.5" r="1.65" fill="#000"/>
<circle cx="606.4" cy="132.5" r="1.65" fill="#000"/>
<circle cx="604.7" cy="122.2" r="1.65" fill="#000"/>
<circle cx="607.1" cy="139.4" r="1.65" fill="#000"/>
<circle cx="600.9" cy="150.7" r="1.65" fill="#000"/>
<circle cx="614.0" cy="134.9" r="1.65" fill="#000"/>
<circle cx="615.8" cy="139.4" r="1.65" fill="#000"/>
<circle cx="605.5" cy="107.7" r="1.65" fill="#000"/>
<circle cx="650.6" cy="30.9" r="1.65" fill="#000"/>
<circle cx="647.7" cy="83.0" r="1.65" fill="#000"/>
<circle cx="677.3" cy="80.5" r="1.65" fill="#000"/>
<circle cx="654.4" cy="94.5" r="1.65" fill="#000"/>
<circle cx="622.5" cy="104.2" r="1.65" fill="#000"/>
<circle cx="633.0" cy="108.0" r="1.65" fill="#000"/>
<circle cx="648.7" cy="105.5" r="1.65" fill="#000"/>
<circle cx="650.6" cy="104.9" r="1.65" fill="#000"/>
<circle cx="647.7" cy="108.4" r="1.65" fill="#000"/>
<circle cx="668.2" cy="101.7" r="1.65" fill="#000"/>
<circle cx="618.7" cy="118.9" r="1.65" fill="#000"/>
<circle cx="659.2" cy="112.2" r="1.65" fill="#000"/>
<circle cx="648.7" cy="120.4" r="1.65" fill="#000"/>
<circle cx="632.5" cy="124.2" r="1.65" fill="#000"/>
<circle cx="635.7" cy="122.9" r="1.65" fill="#000"/>
<circle cx="624.4" cy="130.3" r="1.65" fill="#000"/>
<circle cx="624.3" cy="141.2" r="1.65" fill="#000"/>
<circle cx="650.6" cy="132.0" r="1.65" fill="#000"/>
<circle cx="661.1" cy="127.5" r="1.65" fill="#000"/>
<circle cx="669.9" cy="127.5" r="1.65" fill="#000"/>
<circle cx="676.8" cy="130.9" r="1.65" fill="#000"/>
<path d="M534.30,143.35 L536.68,142.69 L539.07,142.03 L541.45,141.37 L543.83,140.71 L546.22,140.04 L548.60,139.37 L550.98,138.70 L553.37,138.03 L555.75,137.35 L558.13,136.68 L560.52,135.99 L562.90,135.31 L565.28,134.62 L567.67,133.93 L570.05,133.23 L572.43,132.53 L574.82,131.82 L577.20,131.10 L579.58,130.38 L581.97,129.66 L584.35,128.92 L586.73,128.18 L589.12,127.43 L591.50,126.67 L593.88,125.90 L596.27,125.11 L598.65,124.32 L601.03,123.51 L603.42,122.68 L605.80,121.84 L608.18,120.98 L610.57,120.10 L612.95,119.20 L615.33,118.28 L617.72,117.34 L620.10,116.37 L622.48,115.37 L624.87,114.36 L627.25,113.31 L629.63,112.24 L632.02,111.14 L634.40,110.02 L636.78,108.87 L639.17,107.70 L641.55,106.51 L643.93,105.29 L646.32,104.06 L648.70,102.80 L651.08,101.53 L653.47,100.24 L655.85,98.94 L658.23,97.62 L660.62,96.29 L663.00,94.95 L665.38,93.60 L667.77,92.24 L670.15,90.87 L672.53,89.49 L674.92,88.11 L677.30,86.72 L677.30,109.87 L674.92,110.59 L672.53,111.32 L670.15,112.05 L667.77,112.79 L665.38,113.54 L663.00,114.30 L660.62,115.07 L658.23,115.85 L655.85,116.64 L653.47,117.45 L651.08,118.27 L648.70,119.11 L646.32,119.96 L643.93,120.84 L641.55,121.73 L639.17,122.65 L636.78,123.59 L634.40,124.55 L632.02,125.54 L629.63,126.55 L627.25,127.59 L624.87,128.66 L622.48,129.75 L620.10,130.86 L617.72,132.01 L615.33,133.17 L612.95,134.36 L610.57,135.57 L608.18,136.80 L605.80,138.05 L603.42,139.32 L601.03,140.61 L598.65,141.91 L596.27,143.22 L593.88,144.55 L591.50,145.89 L589.12,147.24 L586.73,148.59 L584.35,149.96 L581.97,151.34 L579.58,152.72 L577.20,154.11 L574.82,155.51 L572.43,156.91 L570.05,158.32 L567.67,159.73 L565.28,161.15 L562.90,162.57 L560.52,163.99 L558.13,165.42 L555.75,166.85 L553.37,168.29 L550.98,169.72 L548.60,171.16 L546.22,172.61 L543.83,174.05 L541.45,175.50 L539.07,176.95 L536.68,178.40 L534.30,179.85Z" fill="#999999" fill-opacity="0.4"/>
<line x1="534.3" y1="161.6" x2="677.3" y2="98.29" stroke="#111" stroke-width="1.1"/>
<rect x="527.5" y="23.5" width="156.79999999999995" height="163.8" fill="none" stroke="#333" stroke-width="1"/>
<text x="525.2" y="35.72" font-size="10.4" text-anchor="end" fill="#1a1a1a" >8000</text>
<text x="525.2" y="68.32" font-size="10.4" text-anchor="end" fill="#1a1a1a" >6000</text>
<text x="525.2" y="101.02" font-size="10.4" text-anchor="end" fill="#1a1a1a" >4000</text>
<text x="525.2" y="133.52" font-size="10.4" text-anchor="end" fill="#1a1a1a" >2000</text>
<text x="525.2" y="166.02" font-size="10.4" text-anchor="end" fill="#1a1a1a" >0</text>
<text x="549.5" y="198.1" font-size="10" text-anchor="middle" fill="#1a1a1a" >1.00</text>
<text x="587.1" y="198.1" font-size="10" text-anchor="middle" fill="#1a1a1a" >1.25</text>
<text x="624.3" y="198.1" font-size="10" text-anchor="middle" fill="#1a1a1a" >1.50</text>
<text x="661.6" y="198.1" font-size="10" text-anchor="middle" fill="#1a1a1a" >1.75</text>
<text x="605.8" y="209.7" font-size="10.5" text-anchor="middle" fill="#1a1a1a" >iBMSC_score(BMSC)</text>
<text transform="translate(496.9,105.4) rotate(-90)" font-size="10.3" text-anchor="middle" fill="#1a1a1a">SIGHT-P</text>
<text x="531.0" y="93.2" font-size="9.2" text-anchor="start" fill="#1a1a1a" >r = 0.72</text>
<text x="531.0" y="105.8" font-size="9.2" text-anchor="start" fill="#1a1a1a" >p&lt;0.0001</text>
<line x1="38.8" y1="274.3" x2="38.8" y2="436.9" stroke="#666" stroke-width="1.2"/>
<line x1="38.3" y1="436.9" x2="219.8" y2="436.9" stroke="#8a8a8a" stroke-width="1.5"/>
<line x1="36.4" y1="280.9" x2="38.8" y2="280.9" stroke="#333" stroke-width="0.9"/>
<text x="34.2" y="284.05" font-size="10.4" text-anchor="end" fill="#1a1a1a" >1.00</text>
<line x1="36.4" y1="318.0" x2="38.8" y2="318.0" stroke="#333" stroke-width="0.9"/>
<text x="34.2" y="321.15" font-size="10.4" text-anchor="end" fill="#1a1a1a" >0.75</text>
<line x1="36.4" y1="355.2" x2="38.8" y2="355.2" stroke="#333" stroke-width="0.9"/>
<text x="34.2" y="358.35" font-size="10.4" text-anchor="end" fill="#1a1a1a" >0.50</text>
<line x1="36.4" y1="392.3" x2="38.8" y2="392.3" stroke="#333" stroke-width="0.9"/>
<text x="34.2" y="395.45" font-size="10.4" text-anchor="end" fill="#1a1a1a" >0.25</text>
<line x1="36.4" y1="429.5" x2="38.8" y2="429.5" stroke="#333" stroke-width="0.9"/>
<text x="34.2" y="432.65" font-size="10.4" text-anchor="end" fill="#1a1a1a" >0.00</text>
<line x1="47.0" y1="436.9" x2="47.0" y2="439.29999999999995" stroke="#666" stroke-width="0.9"/>
<text x="47.8" y="448.6" font-size="10.4" text-anchor="middle" fill="#1a1a1a" >0</text>
<line x1="101.7" y1="436.9" x2="101.7" y2="439.29999999999995" stroke="#666" stroke-width="0.9"/>
<text x="103.0" y="448.6" font-size="10.4" text-anchor="middle" fill="#1a1a1a" >50</text>
<line x1="156.8" y1="436.9" x2="156.8" y2="439.29999999999995" stroke="#666" stroke-width="0.9"/>
<text x="158.4" y="448.6" font-size="10.4" text-anchor="middle" fill="#1a1a1a" >100</text>
<line x1="200.9" y1="436.9" x2="200.9" y2="439.29999999999995" stroke="#666" stroke-width="0.9"/>
<text x="202.0" y="448.6" font-size="10.4" text-anchor="middle" fill="#1a1a1a" >150</text>
<text x="129.7" y="469.0" font-size="10.5" text-anchor="middle" fill="#1a1a1a" >Time (Month)</text>
<text transform="translate(7.9,355.0) rotate(-90)" font-size="10.6" text-anchor="middle" fill="#1a1a1a">Survival probability</text>
<text x="43.1" y="421.6" font-size="10.5" text-anchor="start" fill="#1a1a1a" >p = 0.036</text>
<text x="122.7" y="371.5" font-size="10.6" fill="#1a1a1a">SIGHT-P<tspan font-size="6.4" dy="-4">low</tspan></text>
<text x="126.9" y="400.3" font-size="10.6" fill="#1a1a1a">SIGHT-P<tspan font-size="6.4" dy="-4">high</tspan></text>
<path d="M48.10,280.90 L48.80,280.90 L48.80,296.70 L51.30,296.70 L51.30,304.00 L52.50,304.00 L52.50,312.10 L58.10,312.10 L58.10,320.70 L60.50,320.70 L60.50,337.30 L62.70,337.30 L62.70,345.60 L64.70,345.60 L64.70,354.10 L75.20,354.10 L75.20,362.70 L76.40,362.70 L76.40,370.80 L91.70,370.80 L91.70,380.00 L92.70,380.00 L92.70,387.90 L98.30,387.90 L98.30,395.40 L104.90,395.40 L104.90,404.00 L195.40,404.00" fill="none" stroke="#983a2b" stroke-width="1.6" stroke-linejoin="miter"/>
<path d="M48.10,280.90 L48.80,280.90 L48.80,288.70 L52.50,288.70 L52.50,296.30 L54.90,296.30 L54.90,304.10 L63.50,304.10 L63.50,312.10 L85.00,312.10 L85.00,319.90 L94.00,319.90 L94.00,328.50 L95.10,328.50 L95.10,342.20 L97.10,342.20 L97.10,351.50 L114.20,351.50 L114.20,360.50 L117.40,360.50 L117.40,378.10 L157.60,378.10" fill="none" stroke="#2e6396" stroke-width="1.6" stroke-linejoin="miter"/>
<path d="M111.50,404.00 H115.30 M113.40,402.10 V405.90" stroke="#983a2b" stroke-width="1.0"/>
<path d="M118.40,404.00 H122.20 M120.30,402.10 V405.90" stroke="#983a2b" stroke-width="1.0"/>
<path d="M180.60,404.00 H184.40 M182.50,402.10 V405.90" stroke="#983a2b" stroke-width="1.0"/>
<path d="M111.10,351.50 H114.90 M113.00,349.60 V353.40" stroke="#2e6396" stroke-width="1.0"/>
<path d="M114.00,360.50 H117.80 M115.90,358.60 V362.40" stroke="#2e6396" stroke-width="1.0"/>
<path d="M119.60,378.10 H123.40 M121.50,376.20 V380.00" stroke="#2e6396" stroke-width="1.0"/>
<path d="M147.70,378.10 H151.50 M149.60,376.20 V380.00" stroke="#2e6396" stroke-width="1.0"/>
<path d="M155.00,378.10 H158.80 M156.90,376.20 V380.00" stroke="#2e6396" stroke-width="1.0"/>
<line x1="265.4" y1="276.8" x2="265.4" y2="437.5" stroke="#333" stroke-width="1"/>
<line x1="264.9" y1="437.5" x2="445.2" y2="437.5" stroke="#8a8a8a" stroke-width="1.5"/>
<line x1="263.0" y1="283.6" x2="265.4" y2="283.6" stroke="#333" stroke-width="0.9"/>
<text x="261.1" y="287.75" font-size="10.4" text-anchor="end" fill="#1a1a1a" >1.00</text>
<line x1="263.0" y1="320.1" x2="265.4" y2="320.1" stroke="#333" stroke-width="0.9"/>
<text x="261.1" y="324.25" font-size="10.4" text-anchor="end" fill="#1a1a1a" >0.75</text>
<line x1="263.0" y1="356.5" x2="265.4" y2="356.5" stroke="#333" stroke-width="0.9"/>
<text x="261.1" y="360.65" font-size="10.4" text-anchor="end" fill="#1a1a1a" >0.50</text>
<line x1="263.0" y1="392.8" x2="265.4" y2="392.8" stroke="#333" stroke-width="0.9"/>
<text x="261.1" y="396.95" font-size="10.4" text-anchor="end" fill="#1a1a1a" >0.25</text>
<line x1="263.0" y1="430.2" x2="265.4" y2="430.2" stroke="#333" stroke-width="0.9"/>
<text x="261.1" y="434.35" font-size="10.4" text-anchor="end" fill="#1a1a1a" >0.00</text>
<line x1="273.5" y1="437.5" x2="273.5" y2="439.9" stroke="#666" stroke-width="0.9"/>
<text x="274.2" y="449.7" font-size="10.4" text-anchor="middle" fill="#1a1a1a" >0</text>
<line x1="314.3" y1="437.5" x2="314.3" y2="439.9" stroke="#666" stroke-width="0.9"/>
<text x="315.0" y="449.7" font-size="10.4" text-anchor="middle" fill="#1a1a1a" >25</text>
<line x1="354.8" y1="437.5" x2="354.8" y2="439.9" stroke="#666" stroke-width="0.9"/>
<text x="355.6" y="449.7" font-size="10.4" text-anchor="middle" fill="#1a1a1a" >50</text>
<line x1="395.4" y1="437.5" x2="395.4" y2="439.9" stroke="#666" stroke-width="0.9"/>
<text x="396.4" y="449.7" font-size="10.4" text-anchor="middle" fill="#1a1a1a" >75</text>
<line x1="436.4" y1="437.5" x2="436.4" y2="439.9" stroke="#666" stroke-width="0.9"/>
<text x="438.0" y="449.7" font-size="10.4" text-anchor="middle" fill="#1a1a1a" >100</text>
<text x="355.2" y="469.0" font-size="10.5" text-anchor="middle" fill="#1a1a1a" >Time (Month)</text>
<text x="354.2" y="271.8" font-size="10.3" text-anchor="middle" fill="#1a1a1a" >GSE58831</text>
<text transform="translate(232.4,356.5) rotate(-90)" font-size="10.6" text-anchor="middle" fill="#1a1a1a">Survival probability</text>
<text x="272.2" y="422.2" font-size="10.5" text-anchor="start" fill="#1a1a1a" >p = 0.023</text>
<text x="361.7" y="324.5" font-size="10.6" fill="#1a1a1a">SIGHT-P<tspan font-size="6.4" dy="-4">low</tspan></text>
<text x="361.2" y="406.9" font-size="10.6" fill="#1a1a1a">SIGHT-P<tspan font-size="6.4" dy="-4">high</tspan></text>
<path d="M277.60,283.30 L277.60,285.50 L278.60,285.50 L278.60,289.60 L283.30,289.60 L283.30,291.50 L284.50,291.50 L284.50,293.40 L286.50,293.40 L286.50,295.40 L288.90,295.40 L288.90,301.20 L293.40,301.20 L293.40,303.50 L294.50,303.50 L294.50,306.20 L296.30,306.20 L296.30,308.50 L297.50,308.50 L297.50,311.30 L303.00,311.30 L303.00,313.50 L303.60,313.50 L303.60,315.20 L308.30,315.20 L308.30,319.00 L309.00,319.00 L309.00,323.00 L310.30,323.00 L310.30,326.50 L311.50,326.50 L311.50,330.90 L320.00,330.90 L320.00,334.30 L320.80,334.30 L320.80,336.90 L323.40,336.90 L323.40,341.10 L325.10,341.10 L325.10,345.40 L326.50,345.40 L326.50,348.00 L327.60,348.00 L327.60,350.90 L330.80,350.90 L330.80,356.70 L333.60,356.70 L333.60,366.70 L346.70,366.70 L346.70,374.20 L361.70,374.20 L361.70,381.20 L385.70,381.20 L385.70,388.20 L419.10,388.20 L419.10,409.50 L444.10,409.50" fill="none" stroke="#983a2b" stroke-width="1.6" stroke-linejoin="miter"/>
<path d="M258.50,283.30 L285.30,283.30 L285.30,286.90 L293.80,286.90 L293.80,290.20 L294.60,290.20 L294.60,293.80 L298.80,293.80 L298.80,297.50 L300.20,297.50 L300.20,301.20 L303.60,301.20 L303.60,305.00 L311.80,305.00 L311.80,308.80 L326.00,308.80 L326.00,311.40 L329.30,311.40 L329.30,314.40 L330.80,314.40 L330.80,317.40 L332.50,317.40 L332.50,320.50 L343.70,320.50 L343.70,326.80 L360.00,326.80 L360.00,332.90 L366.60,332.90 L366.60,339.20 L380.30,339.20 L380.30,346.20 L384.50,346.20 L384.50,354.60 L410.90,354.60 L410.90,369.50 L414.90,369.50" fill="none" stroke="#2e6396" stroke-width="1.6" stroke-linejoin="miter"/>
<path d="M271.80,283.30 H275.60 M273.70,281.40 V285.20" stroke="#2e6396" stroke-width="1.0"/>
<path d="M273.10,283.30 H276.90 M275.00,281.40 V285.20" stroke="#2e6396" stroke-width="1.0"/>
<path d="M277.00,283.30 H280.80 M278.90,281.40 V285.20" stroke="#2e6396" stroke-width="1.0"/>
<path d="M279.70,283.30 H283.50 M281.60,281.40 V285.20" stroke="#2e6396" stroke-width="1.0"/>
<path d="M282.30,283.30 H286.10 M284.20,281.40 V285.20" stroke="#2e6396" stroke-width="1.0"/>
<path d="M286.60,286.90 H290.40 M288.50,285.00 V288.80" stroke="#2e6396" stroke-width="1.0"/>
<path d="M295.60,293.80 H299.40 M297.50,291.90 V295.70" stroke="#2e6396" stroke-width="1.0"/>
<path d="M307.30,305.00 H311.10 M309.20,303.10 V306.90" stroke="#2e6396" stroke-width="1.0"/>
<path d="M325.80,308.80 H329.60 M327.70,306.90 V310.70" stroke="#2e6396" stroke-width="1.0"/>
<path d="M334.30,320.50 H338.10 M336.20,318.60 V322.40" stroke="#2e6396" stroke-width="1.0"/>
<path d="M337.80,320.50 H341.60 M339.70,318.60 V322.40" stroke="#2e6396" stroke-width="1.0"/>
<path d="M339.70,320.50 H343.50 M341.60,318.60 V322.40" stroke="#2e6396" stroke-width="1.0"/>
<path d="M346.90,326.80 H350.70 M348.80,324.90 V328.70" stroke="#2e6396" stroke-width="1.0"/>
<path d="M350.90,326.80 H354.70 M352.80,324.90 V328.70" stroke="#2e6396" stroke-width="1.0"/>
<path d="M355.30,326.80 H359.10 M357.20,324.90 V328.70" stroke="#2e6396" stroke-width="1.0"/>
<path d="M361.60,332.90 H365.40 M363.50,331.00 V334.80" stroke="#2e6396" stroke-width="1.0"/>
<path d="M380.60,346.20 H384.40 M382.50,344.30 V348.10" stroke="#2e6396" stroke-width="1.0"/>
<path d="M387.50,354.60 H391.30 M389.40,352.70 V356.50" stroke="#2e6396" stroke-width="1.0"/>
<path d="M399.50,354.60 H403.30 M401.40,352.70 V356.50" stroke="#2e6396" stroke-width="1.0"/>
<path d="M402.90,354.60 H406.70 M404.80,352.70 V356.50" stroke="#2e6396" stroke-width="1.0"/>
<path d="M406.30,354.60 H410.10 M408.20,352.70 V356.50" stroke="#2e6396" stroke-width="1.0"/>
<path d="M410.50,369.50 H414.30 M412.40,367.60 V371.40" stroke="#2e6396" stroke-width="1.0"/>
<path d="M412.70,369.50 H416.50 M414.60,367.60 V371.40" stroke="#2e6396" stroke-width="1.0"/>
<path d="M285.10,295.40 H288.90 M287.00,293.50 V297.30" stroke="#983a2b" stroke-width="1.0"/>
<path d="M295.10,308.50 H298.90 M297.00,306.60 V310.40" stroke="#983a2b" stroke-width="1.0"/>
<path d="M303.60,315.20 H307.40 M305.50,313.30 V317.10" stroke="#983a2b" stroke-width="1.0"/>
<path d="M337.40,366.70 H341.20 M339.30,364.80 V368.60" stroke="#983a2b" stroke-width="1.0"/>
<path d="M342.20,366.70 H346.00 M344.10,364.80 V368.60" stroke="#983a2b" stroke-width="1.0"/>
<path d="M386.20,388.20 H390.00 M388.10,386.30 V390.10" stroke="#983a2b" stroke-width="1.0"/>
<path d="M391.00,388.20 H394.80 M392.90,386.30 V390.10" stroke="#983a2b" stroke-width="1.0"/>
<path d="M408.10,388.20 H411.90 M410.00,386.30 V390.10" stroke="#983a2b" stroke-width="1.0"/>
<path d="M413.90,388.20 H417.70 M415.80,386.30 V390.10" stroke="#983a2b" stroke-width="1.0"/>
<path d="M441.60,409.50 H445.40 M443.50,407.60 V411.40" stroke="#983a2b" stroke-width="1.0"/>
<line x1="501.4" y1="278.1" x2="501.4" y2="438.3" stroke="#666" stroke-width="1.2"/>
<line x1="500.9" y1="438.3" x2="682.6" y2="438.3" stroke="#222" stroke-width="1.1"/>
<line x1="499.0" y1="299.1" x2="501.4" y2="299.1" stroke="#333" stroke-width="0.9"/>
<text x="496.0" y="302.25" font-size="10.4" text-anchor="end" fill="#1a1a1a" >0.3</text>
<line x1="499.0" y1="342.5" x2="501.4" y2="342.5" stroke="#333" stroke-width="0.9"/>
<text x="496.0" y="345.65" font-size="10.4" text-anchor="end" fill="#1a1a1a" >0.2</text>
<line x1="499.0" y1="387.1" x2="501.4" y2="387.1" stroke="#333" stroke-width="0.9"/>
<text x="496.0" y="390.25" font-size="10.4" text-anchor="end" fill="#1a1a1a" >0.1</text>
<line x1="499.0" y1="431.2" x2="501.4" y2="431.2" stroke="#333" stroke-width="0.9"/>
<text x="496.0" y="434.35" font-size="10.4" text-anchor="end" fill="#1a1a1a" >0.0</text>
<line x1="509.4" y1="438.3" x2="509.4" y2="440.7" stroke="#666" stroke-width="0.9"/>
<text x="508.0" y="451.3" font-size="10.4" text-anchor="middle" fill="#1a1a1a" >0</text>
<line x1="550.5" y1="438.3" x2="550.5" y2="440.7" stroke="#666" stroke-width="0.9"/>
<text x="550.2" y="451.3" font-size="10.4" text-anchor="middle" fill="#1a1a1a" >25</text>
<line x1="592.3" y1="438.3" x2="592.3" y2="440.7" stroke="#666" stroke-width="0.9"/>
<text x="592.0" y="451.3" font-size="10.4" text-anchor="middle" fill="#1a1a1a" >50</text>
<line x1="633.1" y1="438.3" x2="633.1" y2="440.7" stroke="#666" stroke-width="0.9"/>
<text x="633.6" y="451.3" font-size="10.4" text-anchor="middle" fill="#1a1a1a" >75</text>
<line x1="674.6" y1="438.3" x2="674.6" y2="440.7" stroke="#666" stroke-width="0.9"/>
<text x="675.2" y="451.3" font-size="10.4" text-anchor="middle" fill="#1a1a1a" >100</text>
<text x="592.3" y="469.0" font-size="10.5" text-anchor="middle" fill="#1a1a1a" >Time (Month)</text>
<text x="591.7" y="271.8" font-size="10.3" text-anchor="middle" fill="#1a1a1a" >GSE58831</text>
<text transform="translate(478.6,358.2) rotate(-90)" font-size="10.6" text-anchor="middle" fill="#1a1a1a">AML probability</text>
<text x="629.0" y="429.3" font-size="10.5" text-anchor="start" fill="#1a1a1a" >p = 0.0074</text>
<text x="610.6" y="396.4" font-size="10.6" fill="#1a1a1a">SIGHT-P<tspan font-size="6.4" dy="-4">low</tspan></text>
<text x="629.0" y="299.4" font-size="10.6" fill="#1a1a1a">SIGHT-P<tspan font-size="6.4" dy="-4">high</tspan></text>
<path d="M509.70,430.90 L515.90,430.90 L515.90,421.50 L517.30,421.50 L517.30,413.10 L519.60,413.10 L519.60,403.10 L521.80,403.10 L521.80,393.60 L529.80,393.60 L529.80,382.60 L536.60,382.60 L536.60,370.30 L540.00,370.30 L540.00,357.10 L545.60,357.10 L545.60,343.50 L549.00,343.50 L549.00,329.30 L551.70,329.30 L551.70,314.10 L552.40,314.10 L552.40,299.60 L555.30,299.60 L555.30,284.70 L684.00,284.70" fill="none" stroke="#983a2b" stroke-width="1.6" stroke-linejoin="miter"/>
<path d="M496.10,430.90 L512.10,430.90 L512.10,420.40 L566.50,420.40 L566.50,401.60 L653.50,401.60" fill="none" stroke="#2e6396" stroke-width="1.6" stroke-linejoin="miter"/>
<path d="M555.00,284.70 H558.80 M556.90,282.80 V286.60" stroke="#983a2b" stroke-width="1.0"/>
<path d="M556.90,284.70 H560.70 M558.80,282.80 V286.60" stroke="#983a2b" stroke-width="1.0"/>
<path d="M560.70,284.70 H564.50 M562.60,282.80 V286.60" stroke="#983a2b" stroke-width="1.0"/>
<path d="M566.40,284.70 H570.20 M568.30,282.80 V286.60" stroke="#983a2b" stroke-width="1.0"/>
<path d="M568.30,284.70 H572.10 M570.20,282.80 V286.60" stroke="#983a2b" stroke-width="1.0"/>
<path d="M574.00,284.70 H577.80 M575.90,282.80 V286.60" stroke="#983a2b" stroke-width="1.0"/>
<path d="M575.90,284.70 H579.70 M577.80,282.80 V286.60" stroke="#983a2b" stroke-width="1.0"/>
<path d="M579.70,284.70 H583.50 M581.60,282.80 V286.60" stroke="#983a2b" stroke-width="1.0"/>
<path d="M581.60,284.70 H585.40 M583.50,282.80 V286.60" stroke="#983a2b" stroke-width="1.0"/>
<path d="M597.70,284.70 H601.50 M599.60,282.80 V286.60" stroke="#983a2b" stroke-width="1.0"/>
<path d="M620.50,284.70 H624.30 M622.40,282.80 V286.60" stroke="#983a2b" stroke-width="1.0"/>
<path d="M622.40,284.70 H626.20 M624.30,282.80 V286.60" stroke="#983a2b" stroke-width="1.0"/>
<path d="M624.30,284.70 H628.10 M626.20,282.80 V286.60" stroke="#983a2b" stroke-width="1.0"/>
<path d="M629.90,284.70 H633.70 M631.80,282.80 V286.60" stroke="#983a2b" stroke-width="1.0"/>
<path d="M651.80,284.70 H655.60 M653.70,282.80 V286.60" stroke="#983a2b" stroke-width="1.0"/>
<path d="M654.60,284.70 H658.40 M656.50,282.80 V286.60" stroke="#983a2b" stroke-width="1.0"/>
<path d="M680.20,284.70 H684.00 M682.10,282.80 V286.60" stroke="#983a2b" stroke-width="1.0"/>
<path d="M511.10,420.40 H514.90 M513.00,418.50 V422.30" stroke="#2e6396" stroke-width="1.0"/>
<path d="M515.30,420.40 H519.10 M517.20,418.50 V422.30" stroke="#2e6396" stroke-width="1.0"/>
<path d="M519.50,420.40 H523.30 M521.40,418.50 V422.30" stroke="#2e6396" stroke-width="1.0"/>
<path d="M523.60,420.40 H527.40 M525.50,418.50 V422.30" stroke="#2e6396" stroke-width="1.0"/>
<path d="M527.80,420.40 H531.60 M529.70,418.50 V422.30" stroke="#2e6396" stroke-width="1.0"/>
<path d="M530.50,420.40 H534.30 M532.40,418.50 V422.30" stroke="#2e6396" stroke-width="1.0"/>
<path d="M534.70,420.40 H538.50 M536.60,418.50 V422.30" stroke="#2e6396" stroke-width="1.0"/>
<path d="M538.90,420.40 H542.70 M540.80,418.50 V422.30" stroke="#2e6396" stroke-width="1.0"/>
<path d="M543.00,420.40 H546.80 M544.90,418.50 V422.30" stroke="#2e6396" stroke-width="1.0"/>
<path d="M545.80,420.40 H549.60 M547.70,418.50 V422.30" stroke="#2e6396" stroke-width="1.0"/>
<path d="M561.10,420.40 H564.90 M563.00,418.50 V422.30" stroke="#2e6396" stroke-width="1.0"/>
<path d="M566.60,401.60 H570.40 M568.50,399.70 V403.50" stroke="#2e6396" stroke-width="1.0"/>
<path d="M570.80,401.60 H574.60 M572.70,399.70 V403.50" stroke="#2e6396" stroke-width="1.0"/>
<path d="M574.90,401.60 H578.70 M576.80,399.70 V403.50" stroke="#2e6396" stroke-width="1.0"/>
<path d="M587.40,401.60 H591.20 M589.30,399.70 V403.50" stroke="#2e6396" stroke-width="1.0"/>
<path d="M593.00,401.60 H596.80 M594.90,399.70 V403.50" stroke="#2e6396" stroke-width="1.0"/>
<path d="M597.10,401.60 H600.90 M599.00,399.70 V403.50" stroke="#2e6396" stroke-width="1.0"/>
<path d="M601.30,401.60 H605.10 M603.20,399.70 V403.50" stroke="#2e6396" stroke-width="1.0"/>
<path d="M605.40,401.60 H609.20 M607.30,399.70 V403.50" stroke="#2e6396" stroke-width="1.0"/>
<path d="M612.40,401.60 H616.20 M614.30,399.70 V403.50" stroke="#2e6396" stroke-width="1.0"/>
<path d="M616.50,401.60 H620.30 M618.40,399.70 V403.50" stroke="#2e6396" stroke-width="1.0"/>
<path d="M620.70,401.60 H624.50 M622.60,399.70 V403.50" stroke="#2e6396" stroke-width="1.0"/>
<path d="M624.90,401.60 H628.70 M626.80,399.70 V403.50" stroke="#2e6396" stroke-width="1.0"/>
<path d="M631.80,401.60 H635.60 M633.70,399.70 V403.50" stroke="#2e6396" stroke-width="1.0"/>
<path d="M637.30,401.60 H641.10 M639.20,399.70 V403.50" stroke="#2e6396" stroke-width="1.0"/>
<path d="M642.90,401.60 H646.70 M644.80,399.70 V403.50" stroke="#2e6396" stroke-width="1.0"/>
<path d="M647.00,401.60 H650.80 M648.90,399.70 V403.50" stroke="#2e6396" stroke-width="1.0"/>
<path d="M649.80,401.60 H653.60 M651.70,399.70 V403.50" stroke="#2e6396" stroke-width="1.0"/>
<path d="M498.60,430.90 H502.40 M500.50,429.00 V432.80" stroke="#2e6396" stroke-width="1.0"/>
</svg></body></html>
